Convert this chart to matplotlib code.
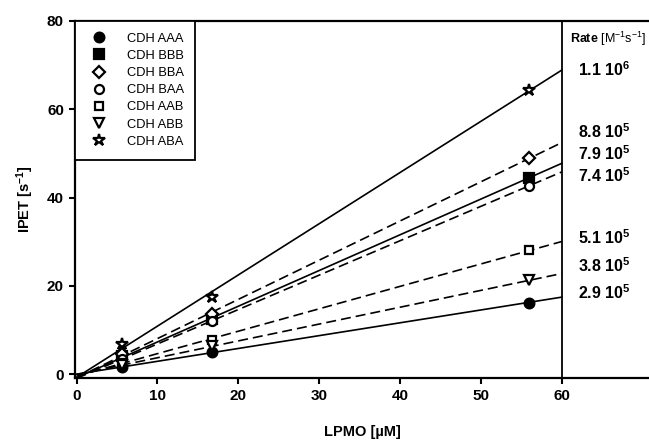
import numpy as np
import matplotlib
matplotlib.use("Agg")
import matplotlib.pyplot as plt

plt.rcParams['font.family'] = ['Liberation Sans', 'DejaVu Sans']
plt.rcParams['mathtext.fontset'] = 'custom'
plt.rcParams['mathtext.rm'] = 'Liberation Sans'
plt.rcParams['mathtext.bf'] = 'Liberation Sans:bold'
plt.rcParams['mathtext.it'] = 'Liberation Sans:italic'

# --- data ---
lpmo = [5.6, 16.8, 55.9]  # uM
names = ["CDH AAA", "CDH BBB", "CDH BBA", "CDH BAA", "CDH AAB", "CDH ABB", "CDH ABA"]
ipet_aaa = [1.5, 5.0, 16.2]
ipet_bbb = [4.0, 12.4, 44.5]
ipet_bba = [4.5, 13.6, 48.9]
ipet_baa = [3.4, 12.1, 42.6]
ipet_aab = [2.6, 7.8, 28.0]
ipet_abb = [2.0, 6.3, 21.2]
ipet_aba = [6.8, 17.4, 64.4]
series = [ipet_aaa, ipet_bbb, ipet_bba, ipet_baa, ipet_aab, ipet_abb, ipet_aba]

markers = ["o", "s", "D", "o", "s", "v", "*"]
filled = [True, True, False, False, False, False, False]
msizes = [7, 6.5, 6, 6.5, 6, 6.5, 9]
dashed = [False, False, True, True, True, True, False]

rate_labels = [r"$\mathbf{1.1\ 10^{6}}$", r"$\mathbf{8.8\ 10^{5}}$", r"$\mathbf{7.9\ 10^{5}}$",
               r"$\mathbf{7.4\ 10^{5}}$", r"$\mathbf{5.1\ 10^{5}}$", r"$\mathbf{3.8\ 10^{5}}$",
               r"$\mathbf{2.9\ 10^{5}}$"]
rate_y = [69.0, 55.0, 50.0, 45.0, 30.8, 24.6, 18.5]

fig = plt.figure(figsize=(6.49, 4.40), dpi=100)
ax = fig.add_axes([0.1156, 0.1409, 0.8844, 0.8114])

# regression line through each series, drawn from 0 to 60 uM
xfit = np.array([0, 60])
for y, m, f, ms, d, name in zip(series, markers, filled, msizes, dashed, names):
    k, b = np.polyfit(lpmo, y, 1)
    ln, = ax.plot(xfit, k * xfit + b, color='black', lw=1.2)
    if d:
        ln.set_dashes([6, 3])
    ax.plot(lpmo, y, linestyle='none', marker=m, markersize=ms,
            markerfacecolor='black' if f else 'white', markeredgecolor='black',
            markeredgewidth=1.6, label=name, zorder=3)

ax.axvline(60, color='black', lw=1.3)

ax.set_xlim(-0.2, 70.8)
ax.set_ylim(-0.9, 80)
ax.set_xticks([0, 10, 20, 30, 40, 50, 60])
ax.set_yticks([0, 20, 40, 60, 80])
ax.tick_params(direction='out', length=4, width=1.5, labelsize=11, pad=4)
for lab in ax.get_xticklabels() + ax.get_yticklabels():
    lab.set_fontweight('bold')
for s in ['left', 'bottom', 'top']:
    ax.spines[s].set_linewidth(1.6)
ax.spines['right'].set_visible(False)

ax.set_xlabel(r"LPMO [µM]", fontsize=10.5, fontweight='bold', labelpad=16)
ax.set_ylabel(r"IPET [s$^{\mathbf{-1}}$]", fontsize=10.5, fontweight='bold', labelpad=8)

leg = ax.legend(loc='upper left', bbox_to_anchor=(0, 1), borderaxespad=0,
                fancybox=False, edgecolor='black', fontsize=9.3, handletextpad=1.2,
                labelspacing=0.4, borderpad=0.9, handlelength=1.9, framealpha=1)
leg.get_frame().set_linewidth(1.3)

ax.text(61.0, 76.0, r"$\mathbf{Rate}$ [M$^{-1}$s$^{-1}$]", fontsize=9, va='center', ha='left')
for lab, yy in zip(rate_labels, rate_y):
    ax.text(62.0, yy, lab, fontsize=11.5, va='center', ha='left')

fig.savefig("out.png", dpi=100)
